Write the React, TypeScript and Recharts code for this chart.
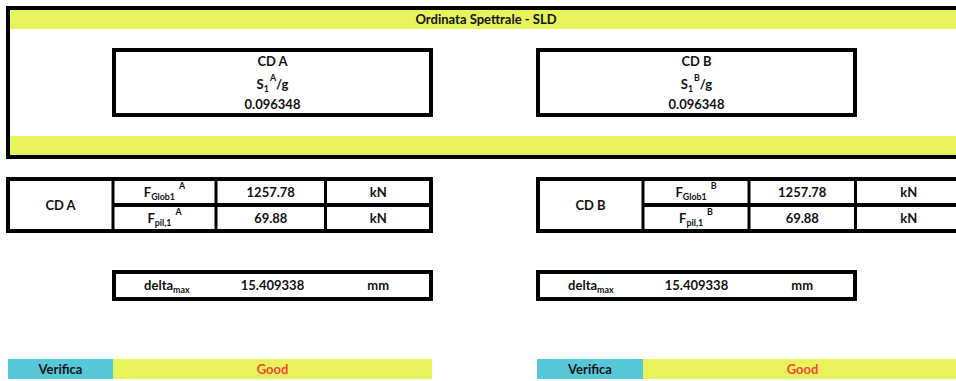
import { ComposedChart, XAxis, YAxis, ReferenceArea } from 'recharts';

// ---- content ----
const title = 'Ordinata Spettrale - SLD';
const zones = ['A', 'B'];
const zoneLabels = ['CD A', 'CD B'];
const spectralOrdinates = [0.096348, 0.096348];
const globalForces = [1257.78, 1257.78];
const pileForces = [69.88, 69.88];
const maxDisplacements = [15.409338, 15.409338];
const verdicts = ['Good', 'Good'];
const forceUnit = 'kN';
const dispUnit = 'mm';
const checkLabel = 'Verifica';

// ---- look ----
const W = 956;
const H = 381;
const FONT = 'Lato, "Open Sans", sans-serif';
const INK = '#111111';
const YELLOW = '#E8F25A';
const CYAN = '#56C8D7';
const RED = '#F4493A';

// sheet layout, in chart units (1 unit = 1 px)
const frame = { x1: 8, x2: 962, y1: 8, y2: 157 };
const bands = [[10, 29], [136, 155]];
const boxCols = [[114, 431], [538, 855]];
const boxRows = [[52, 70], [75, 93], [96, 113]];
const tableCols = [[8, 113, 216, 325.5, 431], [538, 643, 749, 855.5, 962]];
const tableRows = [179, 205, 231];
const deltaRows = [272, 299];
const checkCols = [[8, 113, 432], [537, 643, 962]];
const checkRows = [359, 379];

type Part = { t: string; s?: 'sub' | 'sup'; dx?: number };

function rich(cx: number, cy: number, parts: Part[], size = 13, fill = INK) {
  const shiftOf = (p: Part) => (p.s === 'sub' ? 3 : p.s === 'sup' ? -8 : 0);
  let prev = 0;
  return (
    <text
      x={cx}
      y={cy + size * 0.36}
      textAnchor="middle"
      fontFamily={FONT}
      fontWeight={700}
      fontSize={size}
      fill={fill}
    >
      {parts.map((p, i) => {
        const s = shiftOf(p);
        const dy = s - prev;
        prev = s;
        return (
          <tspan key={i} dy={dy} dx={p.dx ?? 0} fontSize={p.s ? size * 0.68 : size}>
            {p.t}
          </tspan>
        );
      })}
    </text>
  );
}

// a cell: filled rect (optional) with centred text, placed through the chart scales
function cell(key: string, x1: number, x2: number, y1: number, y2: number, fill: string, parts: Part[] | null, color = INK, size = 13) {
  return (
    <ReferenceArea
      key={key}
      x1={x1}
      x2={x2}
      y1={y1}
      y2={y2}
      ifOverflow="visible"
      shape={(p: any) => (
        <g>
          {fill !== 'none' && <rect x={p.x} y={p.y} width={p.width} height={p.height} fill={fill} />}
          {parts && rich(p.x + p.width / 2, p.y + p.height / 2, parts, size, color)}
        </g>
      )}
    />
  );
}

function frameRect(key: string, x1: number, x2: number, y1: number, y2: number, sw = 4) {
  return (
    <ReferenceArea
      key={key}
      x1={x1}
      x2={x2}
      y1={y1}
      y2={y2}
      ifOverflow="visible"
      shape={(p: any) => (
        <rect x={p.x} y={p.y} width={p.width} height={p.height} fill="none" stroke="#000" strokeWidth={sw} />
      )}
    />
  );
}

function lineRect(key: string, x1: number, x2: number, y1: number, y2: number) {
  return (
    <ReferenceArea
      key={key}
      x1={x1}
      x2={x2}
      y1={y1}
      y2={y2}
      ifOverflow="visible"
      shape={(p: any) => <rect x={p.x} y={p.y} width={p.width} height={p.height} fill="#000" />}
    />
  );
}

export default function App() {
  const items: any[] = [];

  // top frame with the two yellow bands
  items.push(cell('frame-bg', frame.x1, frame.x2, frame.y1, frame.y2, '#ffffff', null));
  bands.forEach(([a, b], i) =>
    items.push(cell(`band${i}`, 10, frame.x2, a, b, YELLOW, i === 0 ? [{ t: title }] : null)),
  );
  items.push(frameRect('frame', frame.x1, frame.x2, frame.y1, frame.y2));

  zones.forEach((z, i) => {
    // spectral ordinate box
    const [bx1, bx2] = boxCols[i];
    items.push(cell(`sb${i}-0`, bx1, bx2, boxRows[0][0], boxRows[0][1], 'none', [{ t: zoneLabels[i] }]));
    items.push(
      cell(`sb${i}-1`, bx1, bx2, boxRows[1][0], boxRows[1][1], 'none', [
        { t: 'S' },
        { t: '1', s: 'sub' },
        { t: z, s: 'sup', dx: 1 },
        { t: '/g' },
      ]),
    );
    items.push(cell(`sb${i}-2`, bx1, bx2, boxRows[2][0], boxRows[2][1], 'none', [{ t: String(spectralOrdinates[i]) }]));
    items.push(frameRect(`sbf${i}`, bx1, bx2, 50, 115));

    // force table
    const c = tableCols[i];
    const [r0, r1, r2] = tableRows;
    items.push(cell(`t${i}-cd`, c[0], c[1], r0, r2, '#ffffff', [{ t: zoneLabels[i] }]));
    items.push(
      cell(`t${i}-f1`, c[1], c[2], r0, r1, '#ffffff', [
        { t: 'F' },
        { t: 'Glob1', s: 'sub' },
        { t: z, s: 'sup', dx: 4 },
      ]),
    );
    items.push(
      cell(`t${i}-f2`, c[1], c[2], r1, r2, '#ffffff', [
        { t: 'F' },
        { t: 'pil,1', s: 'sub' },
        { t: z, s: 'sup', dx: 4 },
      ]),
    );
    items.push(cell(`t${i}-v1`, c[2], c[3], r0, r1, '#ffffff', [{ t: String(globalForces[i]) }]));
    items.push(cell(`t${i}-v2`, c[2], c[3], r1, r2, '#ffffff', [{ t: String(pileForces[i]) }]));
    items.push(cell(`t${i}-u1`, c[3], c[4], r0, r1, '#ffffff', [{ t: forceUnit }]));
    items.push(cell(`t${i}-u2`, c[3], c[4], r1, r2, '#ffffff', [{ t: forceUnit }]));
    items.push(lineRect(`t${i}-h`, c[1], c[4], r1 - 2, r1 + 2));
    [1, 2, 3].forEach((k) => items.push(lineRect(`t${i}-v${k}`, c[k] - 1.5, c[k] + 1.5, r0, r2)));
    items.push(frameRect(`tf${i}`, c[0], c[4], r0, r2));

    // max displacement box
    const [d0, d1] = deltaRows;
    const third = (bx2 - bx1) / 3;
    items.push(cell(`d${i}-l`, bx1, bx1 + third, d0, d1, '#ffffff', [{ t: 'delta' }, { t: 'max', s: 'sub' }]));
    items.push(cell(`d${i}-v`, bx1 + third, bx1 + 2 * third, d0, d1, '#ffffff', [{ t: String(maxDisplacements[i]) }]));
    items.push(cell(`d${i}-u`, bx1 + 2 * third, bx2, d0, d1, '#ffffff', [{ t: dispUnit }]));
    items.push(frameRect(`df${i}`, bx1, bx2, d0, d1));

    // check row
    const k = checkCols[i];
    items.push(cell(`c${i}-l`, k[0], k[1], checkRows[0], checkRows[1], CYAN, [{ t: checkLabel }]));
    items.push(cell(`c${i}-r`, k[1], k[2], checkRows[0], checkRows[1], YELLOW, [{ t: verdicts[i] }], RED));
  });

  return (
    <div style={{ position: 'absolute', left: 0, top: 0, width: W, height: H, background: '#fff' }}>
      <ComposedChart width={W} height={H} data={[]} margin={{ top: 0, right: 0, bottom: 0, left: 0 }}>
        <XAxis type="number" dataKey="x" domain={[0, W]} hide allowDataOverflow />
        <YAxis type="number" dataKey="y" domain={[0, H]} reversed hide allowDataOverflow />
        {items}
      </ComposedChart>
    </div>
  );
}
